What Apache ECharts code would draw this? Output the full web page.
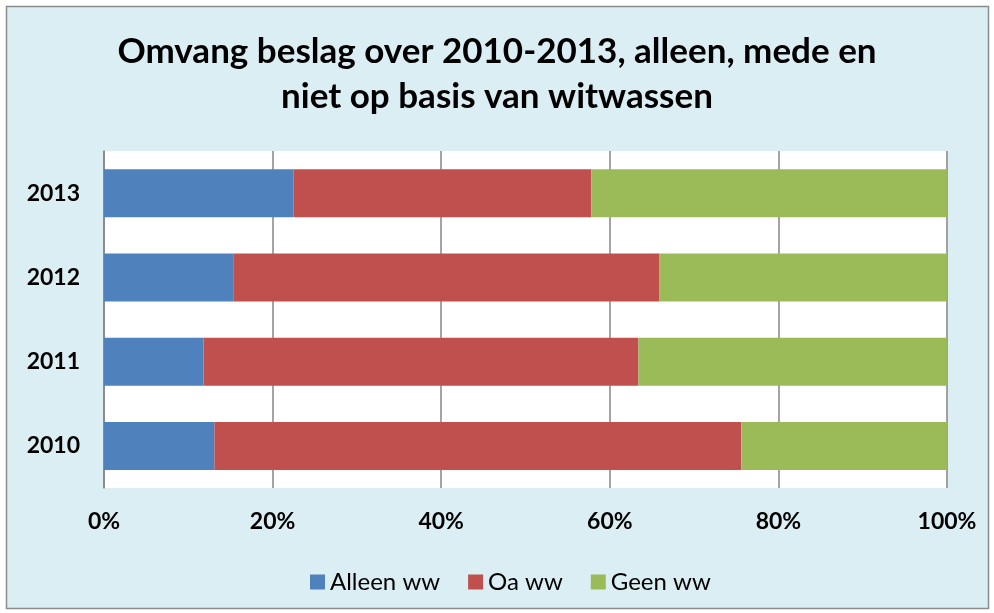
<!DOCTYPE html>
<html><head><meta charset="utf-8">
<script src="https://cdn.jsdelivr.net/npm/echarts@6/dist/echarts.min.js"></script>
<style>html,body{margin:0;padding:0;background:#fff}#c{width:994px;height:613px}</style>
</head><body><div id="c"></div>
<script>
const categories = ['2010', '2011', '2012', '2013'];
const alleenWW = [13.1, 11.8, 15.4, 22.5];
const oaWW = [62.5, 51.6, 50.5, 35.3];
const geenWW = [24.4, 36.6, 34.1, 42.2];
const xTicks = { min: 0, max: 100, interval: 20 };

const chart = echarts.init(document.getElementById('c'));
const font = 'Lato, "Open Sans", sans-serif';
function bar(name, data, color) {
  return { name, type: 'bar', stack: 'all', data, barWidth: 48,
    itemStyle: { color }, emphasis: { disabled: true } };
}
chart.setOption({
  backgroundColor: '#ffffff',
  animation: false,
  graphic: [{ type: 'rect', z: -10, shape: { x: 6.5, y: 6.5, width: 982, height: 602 },
    style: { fill: '#DBEEF4', stroke: '#8c8c8c', lineWidth: 1.5 } },
    { type: 'rect', z: -9, shape: { x: 104, y: 151, width: 843, height: 337 }, style: { fill: '#ffffff' } }],
  title: { text: 'Omvang beslag over 2010-2013, alleen, mede en\nniet op basis van witwassen',
    left: 'center', top: 24,
    textStyle: { fontFamily: font, fontWeight: 'bold', fontSize: 35, lineHeight: 45, color: '#000' } },
  grid: { left: 104, right: 47, top: 151, bottom: 125, containLabel: false },
  legend: { left: 305, top: 565, icon: 'rect', itemWidth: 15, itemHeight: 15, itemGap: 28,
    textStyle: { fontFamily: font, fontSize: 24, color: '#000' } },
  xAxis: { type: 'value', min: xTicks.min, max: xTicks.max, interval: xTicks.interval,
    axisLabel: { formatter: '{value}%', fontFamily: font, fontWeight: 'bold', fontSize: 23, color: '#000', margin: 22 },
    splitLine: { show: true, lineStyle: { color: '#868686', width: 1.5 } },
    axisLine: { show: false }, axisTick: { show: false } },
  yAxis: { type: 'category', data: categories,
    axisLabel: { fontFamily: font, fontWeight: 'bold', fontSize: 23, color: '#000', margin: 24 },
    axisLine: { show: true, lineStyle: { color: '#868686', width: 1.5 } }, axisTick: { show: false } },
  series: [bar('Alleen ww', alleenWW, '#4F81BD'), bar('Oa ww', oaWW, '#C0504D'), bar('Geen ww', geenWW, '#9BBB59')]
});
</script></body></html>
